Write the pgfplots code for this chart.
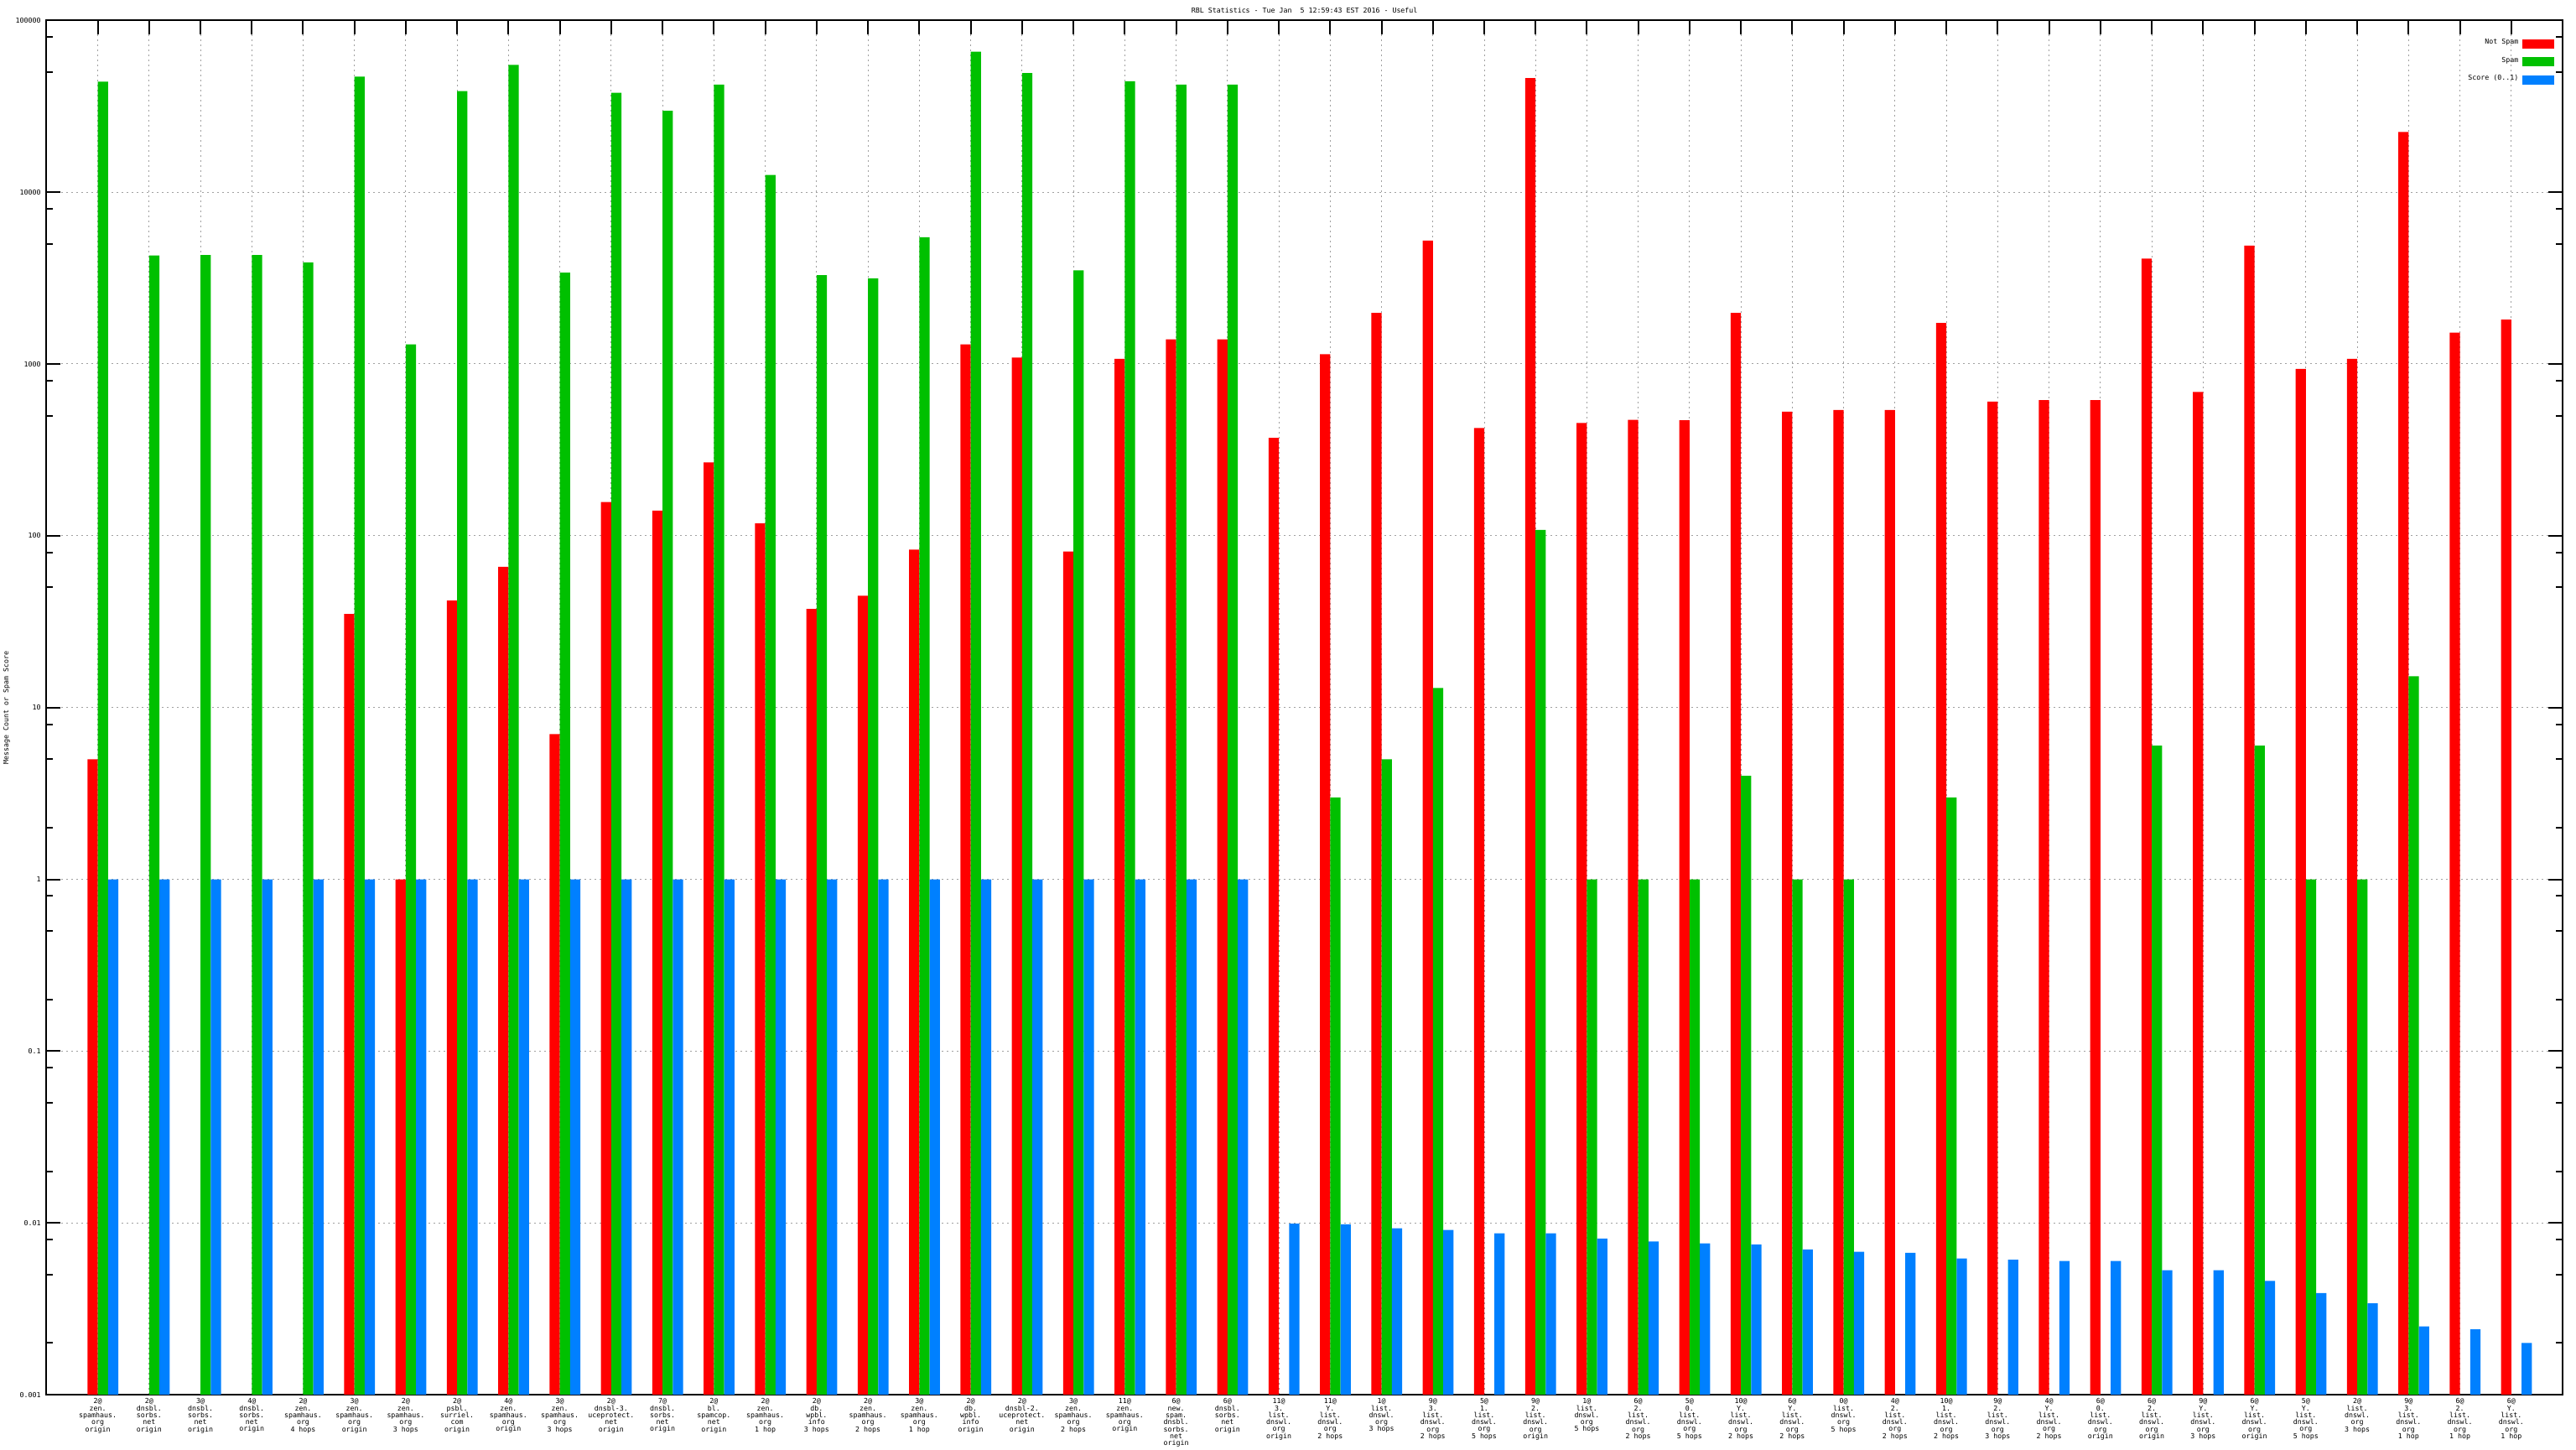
\documentclass[border=0pt]{standalone}
\usepackage{fontspec}
\setmainfont{DejaVu Sans Mono}
\usepackage{pgfplots}
\usepackage{pgfplotstable}
\pgfplotsset{compat=1.18}
\definecolor{nsred}{RGB}{255,0,0}
\definecolor{spgreen}{RGB}{0,192,0}
\definecolor{scblue}{RGB}{0,128,255}
\definecolor{gridgray}{RGB}{160,160,160}
\newcommand{\lbl}{\fontsize{2.36pt}{2.36pt}\selectfont}

\pgfplotstableread{
x ns sp sc
0 5 44000 1
1 nan 4280 1
2 nan 4300 1
3 nan 4300 1
4 nan 3900 1
5 35 47000 1
6 1 1300 1
7 42 38800 1
8 66 55000 1
9 7 3400 1
10 157 37900 1
11 140 29800 1
12 267 42300 1
13 118 12600 1
14 37.5 3290 1
15 44.7 3150 1
16 83 5460 1
17 1300 65800 1
18 1090 49400 1
19 81 3510 1
20 1070 44200 1
21 1390 42300 1
22 1390 42300 1
23 371 nan 0.0099
24 1140 3 0.0098
25 1980 5 0.0093
26 5220 13 0.0091
27 424 nan 0.0087
28 46200 108 0.0087
29 453 1 0.0081
30 473 1 0.0078
31 470 1 0.0076
32 1980 4 0.0075
33 527 1 0.0070
34 540 1 0.0068
35 540 nan 0.0067
36 1730 3 0.0062
37 603 nan 0.0061
38 616 nan 0.0060
39 616 nan 0.0060
40 4100 6 0.0053
41 687 nan 0.0053
42 4890 6 0.0046
43 935 1 0.0039
44 1070 1 0.0034
45 22400 15.2 0.0025
46 1520 nan 0.0024
47 1810 nan 0.0020
}\datatable

\begin{document}
\begin{tikzpicture}
\useasboundingbox (0,0) rectangle (30.72cm,17.28cm);
\begin{axis}[
  at={(0.553cm,0.65cm)}, anchor=south west,
  scale only axis, width=30.007cm, height=16.387cm,
  xmin=-1, xmax=48,
  ymode=log, ymin=0.001, ymax=100000,
  log origin y=infty,
  xtick={0,...,47},
  xtick pos=right, xticklabel pos=left,
  xticklabels={
    {2@\\zen.\\spamhaus.\\org\\origin},
    {2@\\dnsbl.\\sorbs.\\net\\origin},
    {3@\\dnsbl.\\sorbs.\\net\\origin},
    {4@\\dnsbl.\\sorbs.\\net\\origin},
    {2@\\zen.\\spamhaus.\\org\\4 hops},
    {3@\\zen.\\spamhaus.\\org\\origin},
    {2@\\zen.\\spamhaus.\\org\\3 hops},
    {2@\\psbl.\\surriel.\\com\\origin},
    {4@\\zen.\\spamhaus.\\org\\origin},
    {3@\\zen.\\spamhaus.\\org\\3 hops},
    {2@\\dnsbl-3.\\uceprotect.\\net\\origin},
    {7@\\dnsbl.\\sorbs.\\net\\origin},
    {2@\\bl.\\spamcop.\\net\\origin},
    {2@\\zen.\\spamhaus.\\org\\1 hop},
    {2@\\db.\\wpbl.\\info\\3 hops},
    {2@\\zen.\\spamhaus.\\org\\2 hops},
    {3@\\zen.\\spamhaus.\\org\\1 hop},
    {2@\\db.\\wpbl.\\info\\origin},
    {2@\\dnsbl-2.\\uceprotect.\\net\\origin},
    {3@\\zen.\\spamhaus.\\org\\2 hops},
    {11@\\zen.\\spamhaus.\\org\\origin},
    {6@\\new.\\spam.\\dnsbl.\\sorbs.\\net\\origin},
    {6@\\dnsbl.\\sorbs.\\net\\origin},
    {11@\\3.\\list.\\dnswl.\\org\\origin},
    {11@\\Y.\\list.\\dnswl.\\org\\2 hops},
    {1@\\list.\\dnswl.\\org\\3 hops},
    {9@\\3.\\list.\\dnswl.\\org\\2 hops},
    {5@\\1.\\list.\\dnswl.\\org\\5 hops},
    {9@\\2.\\list.\\dnswl.\\org\\origin},
    {1@\\list.\\dnswl.\\org\\5 hops},
    {6@\\2.\\list.\\dnswl.\\org\\2 hops},
    {5@\\0.\\list.\\dnswl.\\org\\5 hops},
    {10@\\Y.\\list.\\dnswl.\\org\\2 hops},
    {6@\\Y.\\list.\\dnswl.\\org\\2 hops},
    {0@\\list.\\dnswl.\\org\\5 hops},
    {4@\\2.\\list.\\dnswl.\\org\\2 hops},
    {10@\\1.\\list.\\dnswl.\\org\\2 hops},
    {9@\\2.\\list.\\dnswl.\\org\\3 hops},
    {4@\\Y.\\list.\\dnswl.\\org\\2 hops},
    {6@\\0.\\list.\\dnswl.\\org\\origin},
    {6@\\2.\\list.\\dnswl.\\org\\origin},
    {9@\\Y.\\list.\\dnswl.\\org\\3 hops},
    {6@\\Y.\\list.\\dnswl.\\org\\origin},
    {5@\\Y.\\list.\\dnswl.\\org\\5 hops},
    {2@\\list.\\dnswl.\\org\\3 hops},
    {9@\\3.\\list.\\dnswl.\\org\\1 hop},
    {6@\\2.\\list.\\dnswl.\\org\\1 hop},
    {6@\\Y.\\list.\\dnswl.\\org\\1 hop}
  },
  ytick={0.001,0.01,0.1,1,10,100,1000,10000,100000},
  yticklabels={0.001,0.01,0.1,1,10,100,1000,10000,100000},
  minor ytick={0.002,0.005,0.008,0.02,0.05,0.08,0.2,0.5,0.8,2,5,8,50,80,500,800,5000,8000,50000,80000},
  grid=major,
  major grid style={gridgray, dash pattern=on 0.02cm off 0.04cm, line width=0.01cm},
  axis line style={line width=0.02cm},
  every tick/.style={black, line width=0.02cm},
  major tick length=0.17cm, minor tick length=0.08cm,
  tick label style={font=\lbl},
  xticklabel style={align=center, inner sep=0pt, anchor=north, yshift=-0.04cm},
  yticklabel style={inner sep=0pt, anchor=east, xshift=-0.06cm},
  every axis title shift=0pt,
  title={RBL Statistics - Tue Jan\ \ 5 12:59:43 EST 2016 - Useful},
  title style={font=\lbl, at={(0.5,1)}, anchor=center, yshift=0.121cm, inner sep=0pt},
  ylabel={Message Count or Spam Score},
  ylabel style={font=\lbl, at={(axis description cs:-0.0158,0.5)}, anchor=center, inner sep=0pt},
  legend image code/.code={\fill[#1,draw=none] (0cm,-0.055cm) rectangle (0.38cm,0.055cm);},
  legend cell align=right, legend plot pos=right,
  legend style={at={(1,1)}, anchor=north east, xshift=-0.09cm, yshift=-0.217cm,
    draw=none, fill=none, font=\lbl, inner sep=0pt, row sep=0.1cm, column sep=0.05cm,
    nodes={inner sep=0pt}},
]
\addplot[ybar, bar width=0.2, bar shift=0pt, fill=nsred, draw=none]
  table[x expr=\thisrow{x}-0.1, y=ns] {\datatable};
\addlegendentry{Not Spam}
\addplot[ybar, bar width=0.2, bar shift=0pt, fill=spgreen, draw=none]
  table[x expr=\thisrow{x}+0.1, y=sp] {\datatable};
\addlegendentry{Spam}
\addplot[ybar, bar width=0.2, bar shift=0pt, fill=scblue, draw=none]
  table[x expr=\thisrow{x}+0.3, y=sc] {\datatable};
\addlegendentry{Score (0..1)}
\end{axis}
\end{tikzpicture}
\end{document}
